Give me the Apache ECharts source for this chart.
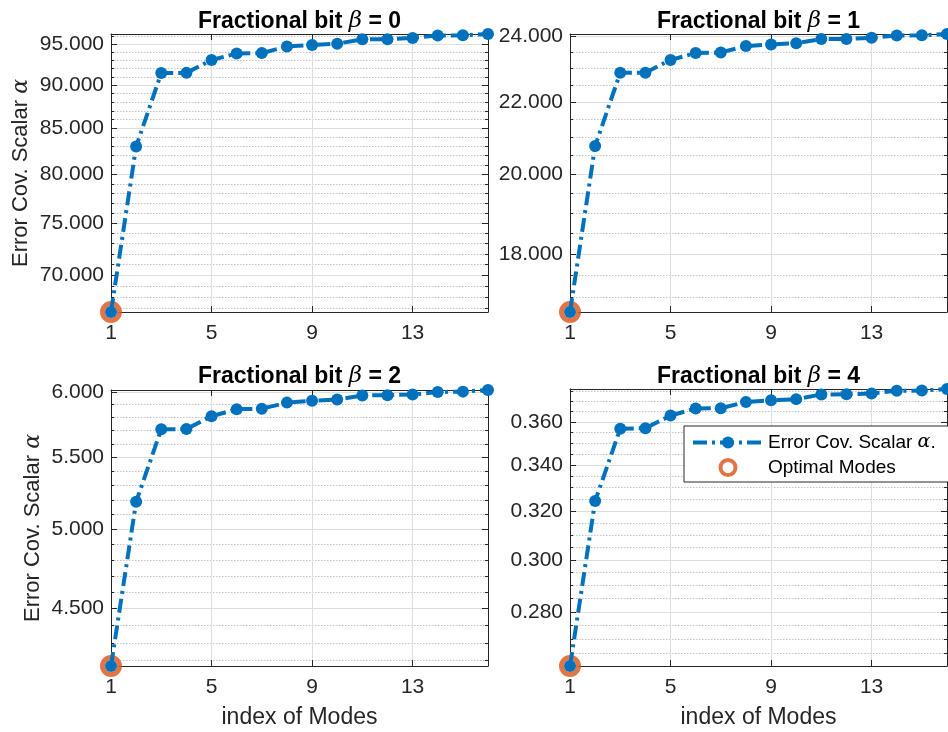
<!DOCTYPE html>
<html><head><meta charset="utf-8">
<script src="https://cdn.jsdelivr.net/npm/echarts@6/dist/echarts.min.js"></script>
<style>html,body{margin:0;padding:0;background:#fff}#c{width:948px;height:732px}</style>
</head><body><div id="c"></div>
<script>
// ---- data ----
const modes = [1,2,3,4,5,6,7,8,9,10,11,12,13,14,15,16];
const alphaBeta0 = [66.7, 83.0, 91.46, 91.48, 93.05, 93.85, 93.9, 94.72, 94.92, 95.08, 95.62, 95.63, 95.8, 96.1, 96.13, 96.3];
const alphaBeta1 = [16.67, 20.76, 22.87, 22.87, 23.26, 23.47, 23.49, 23.69, 23.74, 23.78, 23.91, 23.91, 23.95, 24.02, 24.03, 24.07];
const alphaBeta2 = [4.17, 5.186, 5.71, 5.712, 5.81, 5.865, 5.868, 5.916, 5.93, 5.94, 5.973, 5.975, 5.98, 6.0, 6.003, 6.016];
const alphaBeta4 = [0.2607, 0.3242, 0.3568, 0.357, 0.363, 0.3664, 0.3666, 0.3696, 0.3704, 0.371, 0.3733, 0.3734, 0.3738, 0.3751, 0.3752, 0.376];
const optimalIndex = [0, 0, 0, 0];
const betaLabels = ['0', '1', '2', '4'];
const xTickValues = [1, 5, 9, 13];
const yMajor0 = [70, 75, 80, 85, 90, 95];
const yMinor0 = [67,68,69,71,72,73,74,76,77,78,79,81,82,83,84,86,87,88,89,91,92,93,94,96];
const yMajor1 = [18, 20, 22, 24];
const yMinor1 = [17, 17.5, 18.5, 19, 19.5, 20.5, 21, 21.5, 22.5, 23, 23.5];
const yMajor2 = [4.5, 5.0, 5.5, 6.0];
const yMinor2 = [4.2, 4.3, 4.4, 4.6, 4.7, 4.8, 4.9, 5.1, 5.2, 5.3, 5.4, 5.6, 5.7, 5.8, 5.9];
const yMajor4 = [0.28, 0.30, 0.32, 0.34, 0.36];
const yMinor4 = [0.265, 0.27, 0.275, 0.285, 0.29, 0.295, 0.305, 0.31, 0.315, 0.325, 0.33, 0.335, 0.345, 0.35, 0.355, 0.365, 0.37, 0.375];
const lineName = 'Error Cov. Scalar α.';
const optName = 'Optimal Modes';
const yAxisTitle = 'Error Cov. Scalar ';
const xAxisTitle = 'index of Modes';

// ---- layout / style ----
const FONT = 'Liberation Sans';
const AX = '#262626';
const BLUE = '#0072BD';
const ORANGE = '#D95319';
const DASH = [14, 5, 3, 5];
const panels = [
  {data: alphaBeta0, major: yMajor0, minor: yMinor0, grid: {left: 111, top: 34, width: 377, height: 278}, yName: true, xName: false, nameGap: 79, titleTop: 10},
  {data: alphaBeta1, major: yMajor1, minor: yMinor1, grid: {left: 570, top: 34, width: 377, height: 278}, yName: false, xName: false, nameGap: 0, titleTop: 10},
  {data: alphaBeta2, major: yMajor2, minor: yMinor2, grid: {left: 111, top: 390, width: 377, height: 276}, yName: true, xName: true, nameGap: 67, titleTop: 365},
  {data: alphaBeta4, major: yMajor4, minor: yMinor4, grid: {left: 570, top: 389, width: 377, height: 277}, yName: false, xName: true, nameGap: 0, titleTop: 365}
];
const mathRich = {fontFamily: 'DejaVu Serif', fontStyle: 'italic', fontWeight: 'normal', fontSize: 19, color: '#000'};

const grid = [], xAxis = [], yAxis = [], series = [], title = [];
panels.forEach((p, i) => {
  grid.push(p.grid);
  const ymin = Math.min(...p.data), ymax = Math.max(...p.data);
  title.push({
    text: '{b|Fractional bit }{m|β}{b| = ' + betaLabels[i] + '}',
    left: p.grid.left + p.grid.width / 2, top: p.titleTop, textAlign: 'center', padding: 0,
    textStyle: {rich: {
      b: {fontFamily: FONT, fontWeight: 'bold', fontSize: 23, color: '#000'},
      m: {fontFamily: 'DejaVu Serif', fontStyle: 'italic', fontWeight: 'normal', fontSize: 23, color: '#000'}
    }}
  });
  xAxis.push({
    gridIndex: i, type: 'value', min: 1, max: 16, position: 'bottom',
    axisLine: {show: true, lineStyle: {color: AX, width: 1}},
    axisTick: {show: true, inside: true, length: 6, customValues: xTickValues, lineStyle: {color: AX}},
    axisLabel: {customValues: xTickValues, color: AX, fontSize: 21, fontFamily: FONT, margin: 11},
    splitLine: {show: true, lineStyle: {color: '#dedede', width: 1}},
    name: p.xName ? xAxisTitle : '', nameLocation: 'middle', nameGap: 40,
    nameTextStyle: {color: AX, fontSize: 23, fontFamily: FONT}
  });
  xAxis.push({
    gridIndex: i, type: 'value', min: 1, max: 16, position: 'top',
    axisLine: {show: true, lineStyle: {color: AX, width: 1}},
    axisTick: {show: true, inside: true, length: 6, customValues: xTickValues, lineStyle: {color: AX}},
    axisLabel: {show: false}, splitLine: {show: false}
  });
  const base = {gridIndex: i, type: 'log', min: ymin, max: ymax};
  yAxis.push(Object.assign({}, base, {
    position: 'left',
    axisLine: {show: true, lineStyle: {color: AX, width: 1}},
    axisTick: {show: true, inside: true, length: 6, customValues: p.major, lineStyle: {color: AX}},
    axisLabel: {customValues: p.major, color: AX, fontSize: 21, fontFamily: FONT, margin: 7,
      formatter: v => Number(v).toFixed(3)},
    splitLine: {show: true, lineStyle: {color: '#dedede', width: 1}},
    name: p.yName ? '{n|' + yAxisTitle + '}{m|α}' : '', nameLocation: 'middle', nameGap: p.nameGap,
    nameTextStyle: {rich: {n: {color: AX, fontSize: 22, fontFamily: FONT}, m: Object.assign({}, mathRich, {fontSize: 22, color: AX})}}
  }));
  yAxis.push(Object.assign({}, base, {
    position: 'right',
    axisLine: {show: true, lineStyle: {color: AX, width: 1}},
    axisTick: {show: true, inside: true, length: 6, customValues: p.major, lineStyle: {color: AX}},
    axisLabel: {show: false}, splitLine: {show: false}
  }));
  yAxis.push(Object.assign({}, base, {
    position: 'left',
    axisLine: {show: false},
    axisTick: {show: true, inside: true, length: 3, customValues: p.minor, lineStyle: {color: AX}},
    axisLabel: {show: false},
    splitLine: {show: true, lineStyle: {color: '#c4c4c4', width: 1, type: [1.5, 1.5]}}
  }));
  yAxis.push(Object.assign({}, base, {
    position: 'right',
    axisLine: {show: false},
    axisTick: {show: true, inside: true, length: 3, customValues: p.minor, lineStyle: {color: AX}},
    axisLabel: {show: false}, splitLine: {show: false}
  }));
  const k = optimalIndex[i];
  series.push({
    name: optName, type: 'scatter', xAxisIndex: 2 * i, yAxisIndex: 4 * i, z: 3,
    data: [[modes[k], p.data[k]]],
    symbol: 'circle', symbolSize: 17,
    itemStyle: {color: '#fff', borderColor: ORANGE, borderWidth: 5}
  });
  series.push({
    name: lineName, type: 'line', xAxisIndex: 2 * i, yAxisIndex: 4 * i, z: 4, clip: false,
    data: modes.map((m, j) => [m, p.data[j]]),
    symbol: 'circle', symbolSize: 12, showAllSymbol: true,
    lineStyle: {color: BLUE, width: 4, type: DASH},
    itemStyle: {color: BLUE}
  });
});

const chart = echarts.init(document.getElementById('c'), null, {renderer: 'canvas'});
chart.setOption({
  animation: false,
  backgroundColor: '#fff',
  title, grid, xAxis, yAxis, series,
  legend: {
    data: [
      {name: lineName, itemStyle: {color: BLUE}, lineStyle: {color: BLUE, width: 4, type: DASH}},
      {name: optName, itemStyle: {color: '#fff', borderColor: ORANGE, borderWidth: 4}}
    ],
    orient: 'vertical', left: 684, top: 426,
    itemWidth: 70, itemHeight: 15, itemGap: 4,
    padding: [6, 16, 4, 7],
    backgroundColor: '#fff', borderColor: AX, borderWidth: 1, borderRadius: 0,
    formatter: n => n === lineName ? '{n|Error Cov. Scalar }{m|α}{n|.}' : '{n|' + n + '}',
    textStyle: {lineHeight: 21, rich: {n: {color: '#000', fontSize: 19, fontFamily: FONT}, m: mathRich}}
  }
});
</script></body></html>
